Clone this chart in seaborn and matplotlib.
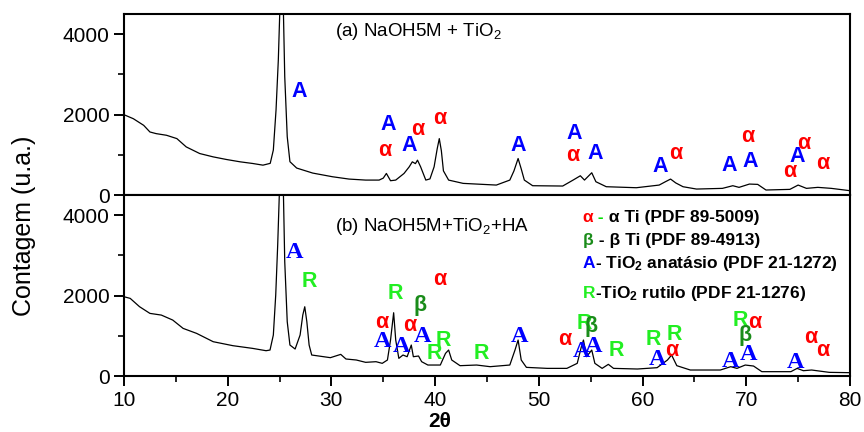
import matplotlib
matplotlib.use("Agg")
import matplotlib.pyplot as plt
import seaborn as sns
from matplotlib.ticker import MultipleLocator

# (a) NaOH5M + TiO2 pattern
two_theta_a = [10.0, 10.9, 11.9, 12.5, 13.1, 14.1, 15.1, 16.0, 17.3, 18.6, 19.9, 21.2,
               22.4, 23.4, 24.1, 24.4, 24.66, 24.88, 25.04, 25.2, 25.36, 25.5, 25.74, 26.0,
               26.65, 28.2, 30.1, 31.7, 33.3, 34.6, 35.0, 35.3, 35.7, 36.2, 37.0, 37.5,
               37.8, 38.1, 38.3, 38.6, 39.1, 39.5, 39.9, 40.2, 40.4, 40.6, 40.8, 41.3,
               42.7, 45.9, 47.2, 47.6, 48.0, 48.3, 48.6, 49.4, 52.3, 53.3, 54.0, 54.4,
               55.1, 55.5, 56.5, 59.4, 61.6, 62.2, 62.7, 63.2, 63.9, 65.2, 67.7, 68.7,
               69.3, 70.3, 71.1, 71.9, 74.2, 75.0, 75.8, 76.9, 78.2, 80.0]
counts_a = [1996, 1897, 1732, 1567, 1526, 1485, 1402, 1196, 1031, 948, 882, 825,
            784, 742, 787, 1118, 2112, 3354, 4700, 9000, 4700, 2940, 1450, 828,
            670, 545, 454, 396, 371, 371, 420, 536, 355, 371, 536, 700,
            825, 780, 866, 701, 371, 400, 700, 1150, 1402, 1100, 600, 371,
            289, 247, 371, 600, 907, 650, 371, 231, 223, 371, 478, 371,
            553, 330, 206, 181, 247, 330, 396, 300, 206, 148, 165, 231,
            190, 272, 264, 124, 140, 247, 165, 190, 165, 107]

# (b) NaOH5M + TiO2 + HA pattern
two_theta_b = [10.0, 10.6, 11.5, 12.5, 13.6, 14.7, 15.7, 17.0, 18.6, 20.5, 22.4, 23.7,
               24.08, 24.4, 24.63, 24.82, 25.0, 25.2, 25.36, 25.5, 25.74, 26.0, 26.5, 26.98,
               27.24, 27.43, 27.63, 27.85, 28.1, 29.9, 30.9, 31.4, 32.4, 33.3, 34.3, 34.9,
               35.4, 35.7, 36.0, 36.2, 36.5, 36.9, 37.3, 37.7, 37.9, 38.4, 38.7, 39.3,
               40.5, 41.0, 41.3, 41.6, 42.4, 44.0, 45.3, 47.2, 47.7, 48.0, 48.3, 48.8,
               50.8, 52.7, 53.7, 54.1, 54.3, 54.6, 55.1, 55.4, 56.1, 56.7, 57.2, 59.5,
               61.4, 62.4, 62.8, 63.3, 64.6, 67.5, 68.5, 69.1, 69.9, 70.7, 71.5, 74.3,
               74.9, 75.5, 76.3, 78.0, 80.0]
counts_b = [1971, 1930, 1723, 1557, 1515, 1391, 1184, 1060, 853, 754, 687, 629,
            646, 1019, 2012, 3255, 4700, 8000, 4700, 2840, 1350, 770, 671, 1019,
            1516, 1722, 1350, 770, 522, 456, 538, 423, 398, 340, 356, 315,
            398, 894, 1573, 894, 439, 522, 480, 770, 480, 497, 356, 273,
            273, 563, 646, 398, 257, 273, 232, 273, 646, 894, 398, 215,
            190, 190, 315, 729, 894, 480, 646, 315, 190, 290, 190, 174,
            207, 398, 522, 257, 149, 149, 232, 190, 273, 248, 108, 108,
            190, 132, 149, 91, 83]

# phase markers (position in 2theta / counts, symbol)
marks_a_x = [26.9, 35.5, 35.1, 37.5, 38.3, 40.4, 48.0, 53.4, 53.3, 55.4, 61.7, 63.2,
             68.4, 70.4, 70.1, 74.9, 75.5, 74.2, 77.4]
marks_a_y = [2581, 1757, 1097, 1237, 1625, 1897, 1237, 1526, 990, 1031, 718, 1031,
             742, 825, 1460, 965, 1278, 577, 784]
marks_a_lbl = ["A", "A", "α", "A", "α", "α", "A", "A", "α", "A", "A", "α",
               "A", "A", "α", "A", "α", "α", "α"]

marks_b_x = [26.4, 27.9, 36.2, 38.5, 34.9, 34.9, 36.8, 37.6, 38.8, 40.4, 40.8, 39.9,
             44.5, 48.1, 52.5, 54.4, 55.0, 54.1, 55.3, 57.5, 61.0, 61.4, 63.1, 62.8,
             69.4, 70.8, 69.9, 68.5, 70.2, 74.7, 76.2, 77.4]
marks_b_y = [3064, 2360, 2054, 1764, 1325, 853, 729, 1267, 977, 2410, 894, 571,
             571, 977, 911, 1308, 1226, 605, 729, 646, 911, 414, 1043, 629,
             1375, 1325, 1019, 356, 547, 340, 961, 629]
marks_b_lbl = ["A", "R", "R", "β", "α", "A", "A", "α", "A", "α", "R", "R",
               "R", "A", "α", "R", "β", "A", "A", "R", "R", "A", "R", "α",
               "R", "α", "β", "A", "A", "A", "α", "α"]

legend_rows = [
    [("α", "#ff0000"), (" -", "#00e000"), (" α Ti (PDF 89-5009)", "black")],
    [("β", "#1a8c1a"), (" - β Ti (PDF 89-4913)", "black")],
    [("A", "#0000ff"), ("- TiO$_\\mathbf{2}$ anatásio (PDF 21-1272)", "black")],
    [("R", "#22ee22"), ("-TiO$_\\mathbf{2}$ rutilo (PDF 21-1276)", "black")],
]
legend_y = [0.852, 0.724, 0.597, 0.432]

colors = {"A": "#0000ff", "α": "#ff0000", "R": "#22ee22", "β": "#1a8c1a"}

sns.set_style("ticks")
plt.rcParams["font.family"] = ["Liberation Sans", "DejaVu Sans"]
plt.rcParams["mathtext.fontset"] = "custom"
plt.rcParams["mathtext.rm"] = "Liberation Sans"
plt.rcParams["mathtext.bf"] = "Liberation Sans:bold"
plt.rcParams["mathtext.it"] = "Liberation Sans:italic"
for k in ["text.color", "axes.labelcolor", "xtick.color", "ytick.color", "axes.edgecolor"]:
    plt.rcParams[k] = "black"

fig = plt.figure(figsize=(8.64, 4.32), dpi=100)
ax_a = fig.add_axes([0.1435, 0.5486, 0.8403, 0.419])
ax_b = fig.add_axes([0.1435, 0.1296, 0.8403, 0.419], sharex=ax_a)

sns.lineplot(x=two_theta_a, y=counts_a, ax=ax_a, color="black", linewidth=0.9, sort=False)
sns.lineplot(x=two_theta_b, y=counts_b, ax=ax_b, color="black", linewidth=0.9, sort=False)

for ax in (ax_a, ax_b):
    ax.set_xlim(10, 80)
    ax.set_ylim(0, 4500)
    ax.xaxis.set_major_locator(MultipleLocator(10))
    ax.xaxis.set_minor_locator(MultipleLocator(5))
    ax.yaxis.set_major_locator(MultipleLocator(2000))
    ax.yaxis.set_minor_locator(MultipleLocator(1000))
    ax.tick_params(which="major", direction="out", length=7, width=1.4, labelsize=15)
    ax.tick_params(which="minor", direction="out", length=4, width=1.2)
    for s in ax.spines.values():
        s.set_linewidth(1.5)
        s.set_visible(True)
    ax.set_xlabel("")
    ax.set_ylabel("")

ax_a.tick_params(labelbottom=False)

for x, y, s in zip(marks_a_x, marks_a_y, marks_a_lbl):
    ax_a.text(x, y, s, color=colors[s], fontsize=15.5, fontweight="bold",
              ha="center", va="center")

for x, y, s in zip(marks_b_x, marks_b_y, marks_b_lbl):
    if s == "A":
        fam, size = ["Liberation Serif"], 17.5
    else:
        fam, size = ["Liberation Sans", "DejaVu Sans"], 15.5
    ax_b.text(x, y, s, color=colors[s], fontsize=size, fontweight="bold",
              family=fam, ha="center", va="center")

ax_a.text(0.29, 0.88, "(a) NaOH5M + TiO$_2$", transform=ax_a.transAxes, fontsize=13.5)
ax_b.text(0.29, 0.80, "(b) NaOH5M+TiO$_2$+HA", transform=ax_b.transAxes, fontsize=13.5)

renderer = fig.canvas.get_renderer()
for y, parts in zip(legend_y, legend_rows):
    x = 0.632
    for s, c in parts:
        t = ax_b.text(x, y, s, transform=ax_b.transAxes, color=c, fontsize=12.5,
                      fontweight="bold", va="baseline", ha="left")
        bb = t.get_window_extent(renderer)
        x = ax_b.transAxes.inverted().transform((bb.x1, bb.y0))[0]

ax_b.set_xlabel("2θ", fontsize=15, fontweight="bold")
ax_b.xaxis.set_label_coords(0.435, -0.2)
fig.text(0.028, 0.477, "Contagem (u.a.)", rotation=90, fontsize=18,
         ha="center", va="center")

fig.savefig("out.png", dpi=100)
